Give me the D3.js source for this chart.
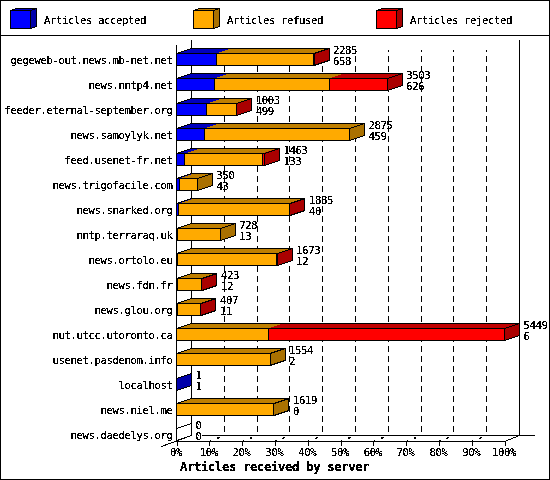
<!DOCTYPE html>
<html>
<head>
<meta charset="utf-8">
<script src="https://cdn.jsdelivr.net/npm/d3@7"></script>
<style>
body { margin: 0; background: #fff; }
svg { display: block; }
text { font-family: "DejaVu Sans Mono", monospace; font-size: 10.6px; letter-spacing: -0.38px; fill: #000; filter: url(#aliased); }
.title { font-size: 12.2px; font-weight: bold; letter-spacing: -0.33px; }
.chart line, .chart path, .chart rect, .chart polygon { shape-rendering: crispEdges; }
</style>
</head>
<body>
<div class="chart"></div>
<script>
// data
const servers = ["gegeweb-out.news.mb-net.net", "news.nntp4.net", "feeder.eternal-september.org",
    "news.samoylyk.net", "feed.usenet-fr.net", "news.trigofacile.com", "news.snarked.org",
    "nntp.terraraq.uk", "news.ortolo.eu", "news.fdn.fr", "news.glou.org", "nut.utcc.utoronto.ca",
    "usenet.pasdenom.info", "localhost", "news.niel.me", "news.daedelys.org"];
const accepted = [658, 626, 499, 459, 133, 43, 40, 13, 12, 12, 11, 6, 2, 1, 0, 0];
const refused = [1619, 1912, 501, 2416, 1295, 307, 1839, 715, 1656, 405, 392, 1519, 1552, 0, 1619, 0];
const rejected = [8, 965, 3, 0, 35, 0, 6, 0, 5, 6, 4, 3924, 0, 0, 0, 0];
const received = [2285, 3503, 1003, 2875, 1463, 350, 1885, 728, 1673, 423, 407, 5449, 1554, 1, 1619, 0];
const percentTicks = [0, 10, 20, 30, 40, 50, 60, 70, 80, 90, 100];
const seriesNames = ["Articles accepted", "Articles refused", "Articles rejected"];

const keys = ["accepted", "refused", "rejected"];
const front = { accepted: "#0000ff", refused: "#ffaa00", rejected: "#ff0000" };
const top_ = { accepted: "#0000bf", refused: "#bf7f00", rejected: "#bf0000" };
const side = { accepted: "#0000aa", refused: "#aa7100", rejected: "#aa0000" };

const width = 550, height = 480;
const dx = 15, dy = 5;   // 3d depth of the bars

const rows = servers.map((s, i) => ({
    server: s, accepted: accepted[i], refused: refused[i], rejected: rejected[i], received: received[i]
}));
const stacked = d3.stack().keys(keys)(rows);

const svg = d3.select(".chart").append("svg")
    .attr("width", width)
    .attr("height", height);

const defs = svg.append("defs");
// the original text is not antialiased
defs.append("filter").attr("id", "aliased")
    .attr("x", "-5%").attr("y", "-20%").attr("width", "110%").attr("height", "140%")
    .append("feComponentTransfer")
    .append("feFuncA").attr("type", "discrete").attr("tableValues", "0 1 1");

// scales
const xScale = d3.scaleLinear().domain([0, d3.max(received)]).range([176.5, 504.5]);
const pctScale = d3.scaleLinear().domain([0, 100]).range([176.5, 504.5]);
const yScale = d3.scaleBand().domain(servers).range([53.5, 440.5]).paddingInner(13 / 25).paddingOuter(0);

// frame
svg.append("rect").attr("x", 0.5).attr("y", 0.5).attr("width", width - 1).attr("height", height - 1)
    .attr("fill", "#fff").attr("stroke", "#000");
svg.append("line").attr("x1", 0).attr("x2", width).attr("y1", 35.5).attr("y2", 35.5).attr("stroke", "#000");

// legend
const legendX = d3.scaleOrdinal().domain(keys).range([10.5, 193.5, 376.5]);
const legend = svg.selectAll(".legend").data(keys).enter().append("g").attr("class", "legend")
    .attr("transform", d => `translate(${legendX(d)},10.5)`);
legend.append("polygon").attr("points", "0,0 6,-2 26,-2 20,0").attr("fill", d => top_[d]).attr("stroke", "#000");
legend.append("polygon").attr("points", "20,0 26,-2 26,16 20,18").attr("fill", d => side[d]).attr("stroke", "#000");
legend.append("rect").attr("width", 20).attr("height", 18).attr("fill", d => front[d]).attr("stroke", "#000");
legend.append("text").attr("x", 33.5).attr("y", 13.5).text((d, i) => seriesNames[i]);

// back wall and floor
const grid = svg.append("g");
const backBottom = yScale(servers[servers.length - 1]) + yScale.bandwidth() - dy;
const frontBottom = backBottom + dy + 1;
grid.selectAll(".grid").data(percentTicks.slice(1, -1)).enter().append("line")
    .attr("x1", d => pctScale(d) + dx).attr("x2", d => pctScale(d) + dx)
    .attr("y1", backBottom).attr("y2", 50)
    .attr("stroke", "#000").attr("stroke-dasharray", "6 4").attr("stroke-dashoffset", 6.5);
grid.selectAll(".floor").data(percentTicks.slice(1, -1)).enter().append("line")
    .attr("x1", d => pctScale(d)).attr("x2", d => pctScale(d) + dx)
    .attr("y1", frontBottom).attr("y2", backBottom)
    .attr("stroke", "#000").attr("stroke-width", 1.5).attr("stroke-dasharray", "2 6 3 20");
grid.append("line").attr("x1", pctScale(0) + dx).attr("x2", pctScale(0) + dx)
    .attr("y1", 40).attr("y2", backBottom).attr("stroke", "#000");
grid.append("line").attr("x1", pctScale(100) + dx).attr("x2", pctScale(100) + dx)
    .attr("y1", 40).attr("y2", backBottom).attr("stroke", "#000");
grid.append("line").attr("x1", pctScale(0) + 25).attr("x2", 534.5)
    .attr("y1", backBottom).attr("y2", backBottom).attr("stroke", "#000");
grid.append("line").attr("x1", pctScale(0) - dx).attr("x2", pctScale(0) + dx)
    .attr("y1", frontBottom + dy).attr("y2", backBottom).attr("stroke", "#000");
grid.append("line").attr("x1", pctScale(100)).attr("x2", pctScale(100) + dx)
    .attr("y1", frontBottom).attr("y2", backBottom).attr("stroke", "#000");
grid.append("line").attr("x1", pctScale(0)).attr("x2", pctScale(0))
    .attr("y1", 45).attr("y2", frontBottom).attr("stroke", "#000");

// bars
const bars = svg.selectAll(".bar").data(rows).enter().append("g").attr("class", "bar");
bars.each(function(d, i) {
    const g = d3.select(this);
    const yt = yScale(d.server), yb = yt + yScale.bandwidth();
    const xe = xScale(d.accepted + d.refused + d.rejected);
    const last = keys.filter(k => d[k] > 0).pop();

    // side of the last segment
    g.append("polygon")
        .attr("points", [[xe, yt], [xe + dx, yt - dy], [xe + dx, yb - dy], [xe, yb]].join(" "))
        .attr("fill", last ? side[last] : "none")
        .attr("stroke", "#000");

    stacked.forEach(s => {
        if (d[s.key] <= 0) return;
        const x0 = xScale(s[i][0]), x1 = xScale(s[i][1]);
        g.append("polygon")
            .attr("points", [[x0, yt], [x0 + dx, yt - dy], [x1 + dx, yt - dy], [x1, yt]].join(" "))
            .attr("fill", top_[s.key]);
    });
    stacked.forEach(s => {
        if (d[s.key] <= 0) return;
        const x0 = xScale(s[i][0]), x1 = xScale(s[i][1]);
        g.append("rect")
            .attr("x", x0).attr("y", yt)
            .attr("width", x1 - x0).attr("height", yb - yt)
            .attr("fill", front[s.key]).attr("stroke", "#000");
    });

    // outline of the top face
    g.append("polygon")
        .attr("points", [[xScale(0), yt], [xScale(0) + dx, yt - dy], [xe + dx, yt - dy], [xe, yt]].join(" "))
        .attr("fill", "none").attr("stroke", "#000");
});

// value labels
bars.append("text")
    .attr("x", d => xScale(d.received) + 19)
    .attr("y", d => yScale(d.server) + 0.5)
    .text(d => d.received);
bars.append("text")
    .attr("x", d => xScale(d.received) + 19)
    .attr("y", d => yScale(d.server) + 11.5)
    .text(d => d.accepted);

// axes
const yAxis = d3.axisLeft(yScale).tickSize(0).tickPadding(4);
svg.append("g").attr("transform", `translate(${pctScale(0)},0)`).call(yAxis)
    .call(g => g.select(".domain").remove())
    .selectAll("text").attr("dy", "0.4em").attr("font-size", null).attr("font-family", null);

const xAxis = d3.axisBottom(pctScale).tickValues(percentTicks).tickSize(4).tickPadding(3)
    .tickFormat(d => d + "%");
const xg = svg.append("g").attr("transform", `translate(0,${frontBottom})`).call(xAxis);
xg.select(".domain").attr("d", `M${pctScale(0)},0H${pctScale(100)}`);
xg.selectAll("text").attr("font-size", null).attr("font-family", null).attr("dx", "-1");

svg.append("text").attr("class", "title")
    .attr("x", 180).attr("y", 471)
    .text("Articles received by server");
</script>
</body>
</html>
